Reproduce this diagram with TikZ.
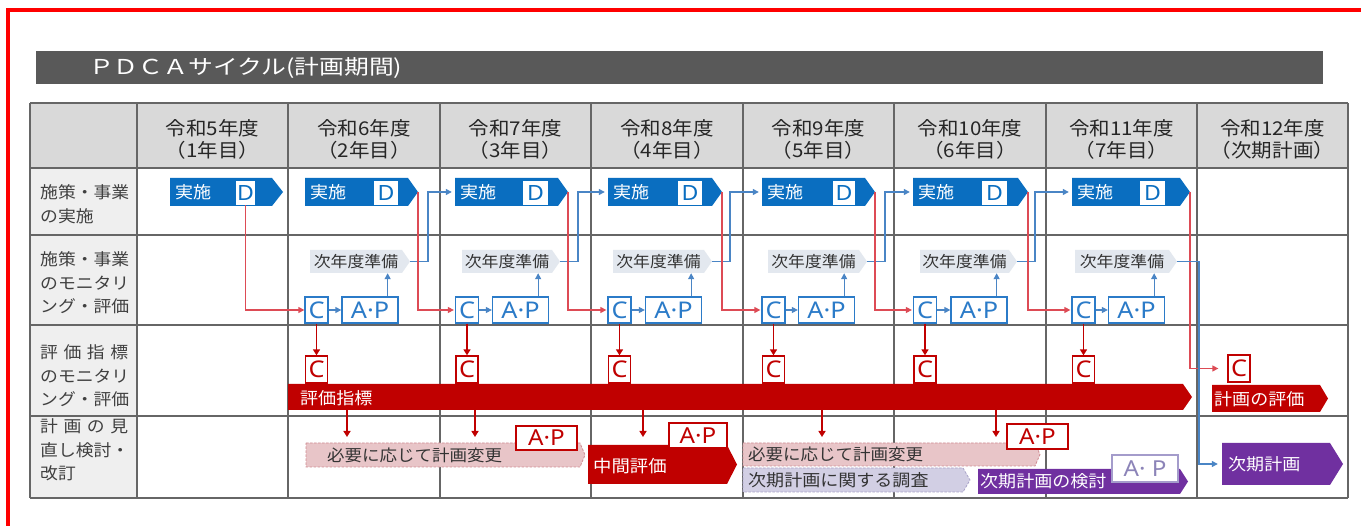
\documentclass[tikz,border=0pt]{standalone}
\usepackage{fontspec}
\setmainfont{Noto Sans CJK JP}[FakeStretch=1.08]
\newfontfamily\latf{Noto Sans}[FakeStretch=1.1]
\usetikzlibrary{arrows.meta,fit,calc}
\definecolor{framered}{HTML}{FF0000}
\definecolor{titlegray}{HTML}{595959}
\definecolor{gridc}{HTML}{666666}
\definecolor{hdrfill}{HTML}{D9D9D9}
\definecolor{lblfill}{HTML}{EFEFEF}
\definecolor{lbltext}{HTML}{404040}
\definecolor{dblue}{HTML}{0A6EC0}
\definecolor{lineblue}{HTML}{4A85C5}
\definecolor{boxblue}{HTML}{2B7BC8}
\definecolor{prepfill}{HTML}{E3E8EF}
\definecolor{thinred}{HTML}{DD4B55}
\definecolor{darkred}{HTML}{C00000}
\definecolor{pinkfill}{HTML}{E8C5C8}
\definecolor{pinkline}{HTML}{CF8C92}
\definecolor{lavfill}{HTML}{D2CFE4}
\definecolor{lavline}{HTML}{A8A2C8}
\definecolor{purp}{HTML}{7030A0}
\definecolor{apline}{HTML}{A49CCB}
\definecolor{aptext}{HTML}{8C84B8}
\newcommand\pentshape[7]{%
  \path[#7] (#2,#5) -- (#3,#5) -- (#4,{(#5+#6)/2}) -- (#3,#6) -- (#2,#6) -- cycle;
  \node[fit={(#2,#5) (#3,#6)}, inner sep=0pt, draw=none] (#1) {};
  \coordinate (#1-tip) at (#4,{(#5+#6)/2});
}
\tikzset{
  gridline/.style={draw=gridc, line width=1.2pt},
  hdr/.style={align=center, inner sep=0pt, text=black!85, font=\fontsize{19}{22}\selectfont},
  lbl/.style={anchor=west, align=left, inner sep=0pt, text=lbltext, font=\fontsize{16.5}{23.5}\selectfont},
  wtxt/.style={anchor=west, inner sep=0pt, text=white, font=\fontsize{16.7}{18}\selectfont},
  dtxt/.style={anchor=west, inner sep=0pt, text=black!80, font=\fontsize{16.2}{18}\selectfont},
  preptxt/.style={inner sep=0pt, text=black!80, font=\fontsize{15.6}{17}\selectfont},
  dlbox/.style={fill=white, inner sep=0pt, minimum height=24pt, text=dblue, font=\latf\fontsize{21}{21}\selectfont},
  cbox/.style={draw=boxblue, fill=white, line width=1.3pt, inner sep=0pt, minimum width=23pt, minimum height=26pt, text=boxblue, font=\latf\fontsize{23}{23}\selectfont},
  apbox/.style={cbox, minimum width=56pt},
  rcbox/.style={cbox, draw=darkred, text=darkred, minimum width=22pt, minimum height=27pt},
  rapbox/.style={draw=darkred, fill=white, line width=1.3pt, inner sep=0pt, minimum height=24pt, text=darkred, font=\latf\fontsize{22}{22}\selectfont},
  papbox/.style={rapbox, draw=apline, text=aptext},
  barrow/.style={draw=lineblue, line width=1.3pt, -{Triangle[length=6pt,width=6pt]}},
  rthin/.style={draw=thinred, line width=1.3pt, -{Triangle[length=6pt,width=6pt]}},
  rdark/.style={draw=darkred, line width=1.5pt, -{Triangle[length=6pt,width=7pt]}},
  dashbox/.style={dash pattern=on 2.5pt off 1.5pt, line width=0.8pt},
}
\begin{document}
\begin{tikzpicture}[x=1pt,y=-1pt]
\useasboundingbox (0,0) rectangle (1361,526);
\fill[white] (0,0) rectangle (1361,526);
% frame
\draw[framered, line width=4pt] (8,560) -- (8,10) -- (1380,10);
% title
\fill[titlegray] (36,51) rectangle (1323,84);
\node[anchor=west, inner sep=0pt, text=white, font=\fontsize{20.5}{21}\selectfont] (title) at (89,68) {\scalebox{1.12}[1]{ＰＤＣＡサイクル(計画期間)}};
% table
\fill[hdrfill] (30,103) rectangle (1348,168);
\fill[lblfill] (30,168) rectangle (137,498);
\foreach \y in {103,168,235,325,416,498} \draw[gridline] (30,\y) -- (1348,\y);
\foreach \x in {30,137,288,440,591,743,894,1046,1197,1348} \draw[gridline] (\x,103) -- (\x,498);
% headers
\foreach \x/\a/\b [count=\k] in {212.5/令和5年度/（1年目）,364/令和6年度/（2年目）,515.5/令和7年度/（3年目）,667/令和8年度/（4年目）,818.5/令和9年度/（5年目）,970/令和10年度/（6年目）,1121.5/令和11年度/（7年目）,1272.5/令和12年度/（次期計画）}
  \node[hdr] (h\k) at (\x,139) {\a\\\b};
% row labels
\node[lbl] (L1) at (40,204) {施策・事業\\の実施};
\node[lbl] (L2) at (40,283) {施策・事業\\のモニタリ\\ング・評価};
\node[lbl] (L3) at (40,376) {\hbox to 88pt{評\hfil 価\hfil 指\hfil 標}\\のモニタリ\\ング・評価};
\node[lbl] (L4) at (40,450) {\hbox to 88pt{計\hfil 画\hfil の\hfil 見}\\直し検討・\\改訂};
% row 1: D boxes
\foreach \i/\a/\b/\c/\p/\q in {1/170/272/283/236/255,2/305/408/418/374/398,3/455/558/568/523/548,4/608/712/722/678/702,5/762/865/875/833/855,6/913/1018/1028/982/1007,7/1072/1180/1190/1140/1165}{
  \pentshape{D\i}{\a}{\b}{\c}{178}{206}{fill=dblue}
  \node[wtxt] (D\i-t) at ({\a+5},192) {実施};
  \node[dlbox, minimum width={\q-\p}] (Dl\i) at ({(\p+\q)/2},193) {D};
}
% row 2: prep shapes
\foreach \i/\a/\b/\c in {2/310/402/410,3/462/552/560,4/613/704/712,5/768/859/867,6/920/1009/1017,7/1075/1169/1177}{
  \pentshape{prep\i}{\a}{\b}{\c}{250}{273}{fill=prepfill}
  \node[preptxt] (prep\i-t) at ({(\a+\b)/2},261.5) {次年度準備};
}
% C and A.P boxes
\foreach \i/\c/\p in {2/316.5/370,3/467/520.5,4/619.5/673.5,5/773.5/826.5,6/925/979,7/1083.5/1136.5}{
  \node[cbox] (C\i) at (\c,310) {C};
  \node[apbox] (AP\i) at (\p,310) {A·P};
  \draw[barrow] (C\i.east) -- (AP\i.west);
  \coordinate (u\i) at ([xshift=-11pt]AP\i.north east);
  \draw[barrow] (u\i) -- (u\i |- prep\i.south);
}
% blue links prep -> next D
\foreach \i/\j in {2/3,3/4,4/5,5/6,6/7}
  \draw[barrow, shorten >=3pt] (prep\i-tip) -- ++(18,0) |- (D\j.west);
% red links D -> next C
\draw[rthin] (Dl1.south) |- (C2.west);
\foreach \i/\j in {2/3,3/4,4/5,5/6,6/7}
  \draw[rthin, shorten >=1pt] (D\i-tip) |- (C\j.west);
% row 3
\pentshape{bar}{288}{1183}{1192}{384}{410}{fill=darkred}
\node[wtxt] (bar-t) at (300,398) {評価指標};
\pentshape{ev}{1212}{1320}{1328}{385}{412}{fill=darkred}
\node[wtxt] (ev-t) at (1214,399) {計画の評価};
\foreach \i/\c in {2/316.5,3/467,4/619.5,5/773.5,6/925,7/1083.5}{
  \node[rcbox] (rC\i) at (\c,369.5) {C};
  \draw[rdark] (C\i.south) -- (rC\i.north);
}
\node[rcbox] (rC8) at (1239,368.5) {C};
\draw[rthin, shorten >=9pt] (D7-tip) |- (rC8.west);
% row 4
\pentshape{pk1}{306}{580}{585}{443}{467}{fill=pinkfill, draw=pinkline, dashbox}
\node[dtxt] (pk1-t) at (327,455) {必要に応じて計画変更};
\node[rapbox, minimum width=61pt] (rAP1) at (546.5,438) {A·P};
\pentshape{mid}{588}{727}{737}{445}{484}{fill=darkred}
\node[wtxt, font=\fontsize{17}{18}\selectfont] (mid-t) at (593,466) {中間評価};
\node[rapbox, minimum width=58pt, minimum height=25pt] (rAP2) at (698,435.5) {A·P};
\pentshape{pk2}{743}{1035}{1040}{443}{466}{fill=pinkfill, draw=pinkline, dashbox}
\node[dtxt] (pk2-t) at (748,454.5) {必要に応じて計画変更};
\node[rapbox, minimum width=61pt, minimum height=25pt] (rAP3) at (1037.5,436.5) {A·P};
\pentshape{lav}{743}{963}{970}{468}{492}{fill=lavfill, draw=lavline, dashbox}
\node[dtxt, font=\fontsize{16.7}{18}\selectfont] (lav-t) at (748,480) {次期計画に関する調査};
\pentshape{pur}{978}{1180}{1188}{469}{494}{fill=purp}
\node[wtxt] (pur-t) at (980,481.5) {次期計画の検討};
\node[papbox, minimum width=66pt, minimum height=27pt] (pAP) at (1145,468.5) {A· P};
\pentshape{nxt}{1222}{1330}{1343}{443}{485}{fill=purp}
\node[wtxt] (nxt-t) at (1228,464) {次期計画};
% arrows from indicator bar
\foreach \x [count=\k] in {347,475,643,822,996}{
  \coordinate (ta\k) at (\x,437);
  \draw[rdark] (bar.south -| ta\k) -- (ta\k);
}
% blue link to next plan
\coordinate (bv) at (1199,300);
\draw[barrow, shorten >=4pt] (prep7-tip) -- (prep7-tip -| bv) |- (nxt.west);
\end{tikzpicture}
\end{document}
